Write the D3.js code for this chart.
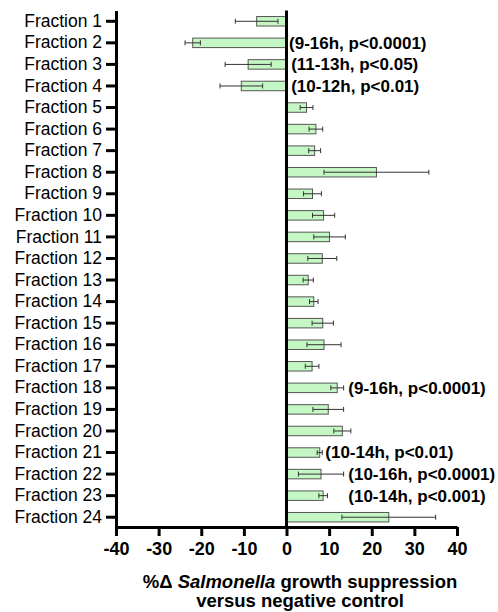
<!DOCTYPE html>
<meta charset="UTF-8"/>
<svg width="498" height="612"></svg>
<script src="https://d3js.org/d3.v7.min.js"></script>
<style>
body { margin: 0; background: #fff; }
* { font-family: 'Liberation Sans', Arial, sans-serif; }
</style>
<script>
// mean % change and SD per fraction
var fractions = d3.range(1, 25).map(function(i) { return "Fraction " + i; });
var means = [-7.0, -22.0, -9.0, -10.6, 4.7, 6.9, 6.6, 21.1, 6.1, 8.7, 10.1, 8.4,
             5.1, 6.4, 8.5, 8.8, 6.0, 11.9, 9.8, 13.1, 7.8, 8.1, 8.6, 24.0];
var sds = [5.0, 1.8, 5.4, 5.0, 1.5, 1.6, 1.4, 12.3, 2.1, 2.6, 3.7, 3.4,
           1.2, 1.0, 2.5, 4.0, 1.6, 1.5, 3.6, 2.0, 0.6, 5.3, 1.0, 11.0];
var xTicks = [-40, -30, -20, -10, 0, 10, 20, 30, 40];

// significance notes: fraction index, text, start (in % units)
var noteIdx = [1, 2, 3, 17, 20, 21, 22];
var noteText = ["(9-16h, p<0.0001)", "(11-13h, p<0.05)", "(10-12h, p<0.01)",
                "(9-16h, p<0.0001)", "(10-14h, p<0.01)", "(10-16h, p<0.0001)", "(10-14h, p<0.001)"];
var noteAt = [0.6, 1.1, 1.1, 14.5, 9.1, 14.5, 14.5];

var data = fractions.map(function(f, i) { return {name: f, mean: means[i], sd: sds[i]}; });

var svg = d3.select("svg");

var x = d3.scaleLinear().domain([-40, 40]).range([116, 457]);
var y = d3.scaleBand().domain(fractions).range([10.5, 528])
    .paddingInner(0.56).paddingOuter(0.28);

// bars
svg.append("g").selectAll("rect")
    .data(data)
  .enter().append("rect")
    .attr("x", function(d) { return x(Math.min(0, d.mean)); })
    .attr("y", function(d) { return y(d.name); })
    .attr("width", function(d) { return Math.abs(x(d.mean) - x(0)); })
    .attr("height", y.bandwidth())
    .attr("fill", "#c4f7c4")
    .attr("stroke", "#555")
    .attr("stroke-width", 1);

// error bars
var eb = svg.append("g").attr("stroke", "#333").attr("stroke-width", 1);
data.forEach(function(d) {
  var cy = y(d.name) + y.bandwidth() / 2;
  var lo = x(d.mean - d.sd), hi = x(d.mean + d.sd);
  eb.append("line").attr("x1", lo).attr("x2", hi).attr("y1", cy).attr("y2", cy);
  eb.append("line").attr("x1", lo).attr("x2", lo).attr("y1", cy - 2.5).attr("y2", cy + 2.5);
  eb.append("line").attr("x1", hi).attr("x2", hi).attr("y1", cy - 2.5).attr("y2", cy + 2.5);
});

// zero line
svg.append("line")
    .attr("x1", x(0)).attr("x2", x(0))
    .attr("y1", 10.5).attr("y2", 528)
    .attr("stroke", "#000").attr("stroke-width", 3);

// left axis
var yAxis = svg.append("g")
    .attr("transform", "translate(" + x(-40) + ",0)")
    .call(d3.axisLeft(y).tickSize(10).tickSizeOuter(0).tickPadding(4));
yAxis.selectAll("line").attr("stroke-width", 3);
yAxis.select(".domain").attr("stroke-width", 3);
yAxis.selectAll("text").style("font-size", "17.5px").attr("fill", "#000");

// bottom axis (plain hyphen for negatives, like the original)
var xAxis = svg.append("g")
    .attr("transform", "translate(0,527)")
    .call(d3.axisBottom(x).tickValues(xTicks).tickFormat(function(d) { return String(d); })
      .tickSize(9).tickSizeOuter(0).tickPadding(6));
xAxis.selectAll("line").attr("stroke-width", 3);
xAxis.select(".domain").attr("stroke-width", 3);
xAxis.selectAll("text").style("font-size", "18px").style("font-weight", "bold").attr("fill", "#000");

// notes
svg.append("g").selectAll("text")
    .data(noteIdx)
  .enter().append("text")
    .attr("x", function(d, i) { return x(noteAt[i]); })
    .attr("y", function(d) { return y(fractions[d]) + y.bandwidth() / 2; })
    .attr("dy", "0.35em")
    .style("font-size", "17px")
    .style("font-weight", "bold")
    .text(function(d, i) { return noteText[i]; });

// axis title
var t1 = svg.append("text")
    .attr("x", 300).attr("y", 588)
    .attr("text-anchor", "middle")
    .style("font-size", "18.5px").style("font-weight", "bold");
t1.append("tspan").text("%\u0394 ");
t1.append("tspan").style("font-style", "italic").text("Salmonella");
t1.append("tspan").text(" growth suppression");

svg.append("text")
    .attr("x", 300).attr("y", 607)
    .attr("text-anchor", "middle")
    .style("font-size", "18.5px").style("font-weight", "bold")
    .text("versus negative control");
</script>
